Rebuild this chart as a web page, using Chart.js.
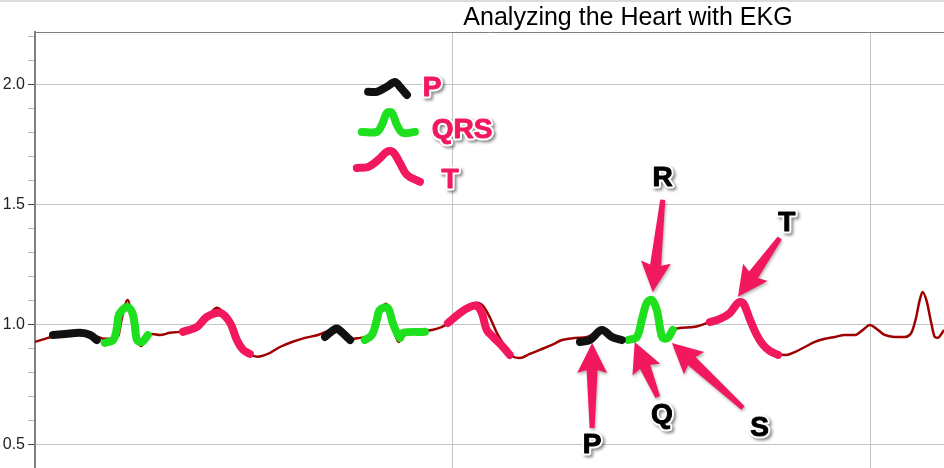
<!DOCTYPE html>
<html lang="en">
<head>
<meta charset="UTF-8">
<title>Analyzing the Heart with EKG</title>
<script src="https://cdn.jsdelivr.net/npm/chart.js"></script>
<style>
  html, body { margin: 0; padding: 0; background: #fff; overflow: hidden; }
  #wrap { width: 944px; height: 468px; position: relative; }
</style>
</head>
<body>
<div id="wrap"><canvas id="ekg"></canvas></div>
<script>
// EKG trace: time (s) and voltage
const traceT = [0, .024, .048, .084, .120, .144, .167, .184, .199, .208, .222, .237, .246, .254, .266, .280, .299, .323, .347, .371,
  .395, .414, .435, .447, .462, .478, .495, .514, .533, .557, .586, .615, .646, .677, .701, .722, .742, .758, .778, .792,
  .806, .821, .840, .852, .861, .871, .880, .897, .921, .950, .974, .993, 1.017, 1.041, 1.057, 1.072, 1.089, 1.105, 1.124, 1.141,
  1.160, 1.184, 1.208, 1.237, 1.261, 1.292, 1.321, 1.340, 1.356, 1.376, 1.395, 1.411, 1.428, 1.443, 1.457, 1.464, 1.476, 1.488, 1.495, 1.505,
  1.514, 1.526, 1.543, 1.579, 1.615, 1.644, 1.667, 1.687, 1.706, 1.722, 1.739, 1.758, 1.778, 1.797, 1.818, 1.842, 1.866, 1.890, 1.914, 1.938,
  1.962, 1.978, 1.998, 2.014, 2.033, 2.057, 2.081, 2.098, 2.108, 2.117, 2.124, 2.134, 2.144, 2.153, 2.160, 2.175];
const traceV = [.929, .942, .954, .958, .962, .954, .942, .942, .954, 1.029, 1.104, .958, .925, .912, .946, .962, .958, .967, .971, .979,
  .992, 1.033, 1.071, 1.058, 1.021, .967, .917, .879, .867, .879, .908, .929, .946, .958, .975, .992, .967, .942, .946, .950,
  .975, 1.046, 1.088, 1.042, .962, .929, .950, .967, .975, .979, .992, 1.012, 1.042, 1.075, 1.092, 1.079, 1.029, .967, .912, .871,
  .862, .879, .896, .917, .937, .946, .950, .967, .987, .962, .942, .937, .946, .958, 1.029, 1.088, 1.108, 1.062, .996, .937,
  .946, .979, .987, .992, 1.012, 1.025, 1.050, 1.096, 1.054, .996, .937, .900, .879, .875, .887, .908, .929, .942, .950, .958,
  .958, .975, 1.000, .983, .958, .950, .950, .971, 1.029, 1.104, 1.137, 1.096, 1.012, .950, .946, .979];

// hand-marked waves, one sub-array per beat
const pWaveT = [[.043, .072, .108, .132, .148], [.694, .718, .725, .754], [1.304, 1.328, 1.356, 1.380, 1.404]];
const pWaveV = [[.958, .962, .967, .958, .937], [.950, .983, .983, .937], [.929, .937, .979, .950, .937]];
const qrsT = [[.167, .187, .196, .201, .220, .232, .239, .244, .256, .270],
  [.789, .806, .818, .825, .844, .856, .873, .880, .933],
  [1.419, 1.440, 1.452, 1.464, 1.476, 1.488, 1.495, 1.502, 1.514, 1.526]];
const qrsV = [[.925, .937, .987, 1.042, 1.075, 1.054, 1.000, .937, .929, .958],
  [.937, .958, 1.021, 1.062, 1.071, 1.008, .946, .967, .971],
  [.937, .950, 1.021, 1.092, 1.104, 1.062, .992, .946, .946, .979]];
const tWaveT = [[.354, .388, .411, .443, .467, .483, .498, .514],
  [.988, 1.017, 1.041, 1.057, 1.069, 1.081, 1.096, 1.120, 1.136],
  [1.615, 1.639, 1.663, 1.682, 1.694, 1.711, 1.727, 1.742, 1.758, 1.778]];
const tWaveV = [[.971, .992, 1.033, 1.050, 1.008, .937, .896, .879],
  [1.008, 1.050, 1.075, 1.079, 1.050, .979, .950, .908, .875],
  [1.012, 1.025, 1.050, 1.092, 1.092, 1.021, .958, .917, .892, .875]];

// key squiggles
const keyPT = [.797, .818, .842, .861, .873, .890];
const keyPV = [1.971, 1.971, 1.992, 2.012, 1.992, 1.958];
const keyQrsT = [.782, .818, .830, .842, .854, .866, .880, .909];
const keyQrsV = [1.804, 1.804, 1.833, 1.883, 1.883, 1.833, 1.800, 1.804];
const keyTT = [.770, .797, .821, .842, .856, .873, .890, .921];
const keyTV = [1.654, 1.658, 1.687, 1.721, 1.721, 1.675, 1.625, 1.596];
const keyNames = ['P', 'QRS', 'T'];
const keyLabelT = [.950, 1.022, .993];
const keyLabelV = [1.987, 1.812, 1.604];

// annotations: letter and arrow (tail -> tip)
const waveLetters = ['R', 'T', 'P', 'Q', 'S'];
const letterT = [1.502, 1.799, 1.333, 1.500, 1.734];
const letterV = [1.612, 1.425, .500, .625, .571];
const arrowFromT = [1.502, 1.782, 1.333, 1.490, 1.694];
const arrowFromV = [1.521, 1.362, .571, .700, .654];
const arrowToT = [1.478, 1.682, 1.333, 1.435, 1.524];
const arrowToV = [1.137, 1.117, .925, .929, .925];

const yTicks = [];
for (let i = 5; i <= 22; i++) yTicks.push(i / 10);
const xGrid = [1, 2];

const PINK = '#f2185e';

function pts(ts, vs) { return ts.map((t, i) => ({ x: t, y: vs[i] })); }
function segs(tl, vl) {
  let out = [];
  tl.forEach((ts, k) => {
    if (k > 0) out.push({ x: ts[0], y: null });
    out = out.concat(pts(ts, vl[k]));
  });
  return out;
}
const isMajor = v => Math.abs(v * 2 - Math.round(v * 2)) < 1e-6;

function thick(label, data, color) {
  return {
    label, data, borderColor: color, borderWidth: 8, pointRadius: 0,
    borderCapStyle: 'round', borderJoinStyle: 'round', tension: 0.35, spanGaps: false, order: 0
  };
}

function arrow(ctx, x0, y0, x1, y1) {
  const dx = x1 - x0, dy = y1 - y0, L = Math.hypot(dx, dy);
  const ux = dx / L, uy = dy / L, nx = -uy, ny = ux;
  const hl = 27, hw = 15;
  const bx = x1 - ux * hl, by = y1 - uy * hl;
  const wx = x1 - ux * (hl + 3), wy = y1 - uy * (hl + 3);
  ctx.beginPath();
  ctx.moveTo(x0 + nx * 2.5, y0 + ny * 2.5);
  ctx.lineTo(bx + nx * 5.5, by + ny * 5.5);
  ctx.lineTo(wx + nx * hw, wy + ny * hw);
  ctx.lineTo(x1, y1);
  ctx.lineTo(wx - nx * hw, wy - ny * hw);
  ctx.lineTo(bx - nx * 5.5, by - ny * 5.5);
  ctx.lineTo(x0 - nx * 2.5, y0 - ny * 2.5);
  ctx.closePath();
  ctx.fill();
}

function label(ctx, text, x, y, fill) {
  ctx.save();
  ctx.font = 'bold 28px "Liberation Sans", Arial, sans-serif';
  ctx.textAlign = 'center';
  ctx.textBaseline = 'middle';
  ctx.lineJoin = 'round';
  ctx.shadowColor = 'rgba(0,0,0,0.45)';
  ctx.shadowOffsetX = 2; ctx.shadowOffsetY = 2; ctx.shadowBlur = 3;
  ctx.strokeStyle = '#fff'; ctx.lineWidth = 5;
  ctx.strokeText(text, x, y);
  ctx.shadowColor = 'transparent';
  ctx.fillStyle = fill;
  ctx.lineWidth = 1; ctx.strokeStyle = fill;
  ctx.strokeText(text, x, y);
  ctx.fillText(text, x, y);
  ctx.restore();
}

const decor = {
  id: 'decor',
  afterDatasetsDraw(chart) {
    const ctx = chart.ctx, xs = chart.scales.x, ys = chart.scales.y;
    ctx.save();
    ctx.fillStyle = PINK;
    ctx.shadowColor = 'rgba(0,0,0,0.3)';
    ctx.shadowOffsetX = 1; ctx.shadowOffsetY = 2; ctx.shadowBlur = 3;
    for (let i = 0; i < waveLetters.length; i++) {
      arrow(ctx, xs.getPixelForValue(arrowFromT[i]), ys.getPixelForValue(arrowFromV[i]),
        xs.getPixelForValue(arrowToT[i]), ys.getPixelForValue(arrowToV[i]));
    }
    ctx.restore();
    waveLetters.forEach((s, i) => label(ctx, s, xs.getPixelForValue(letterT[i]), ys.getPixelForValue(letterV[i]), '#000'));
    keyNames.forEach((s, i) => label(ctx, s, xs.getPixelForValue(keyLabelT[i]), ys.getPixelForValue(keyLabelV[i]), PINK));
  },
  afterDraw(chart) {
    const ctx = chart.ctx, a = chart.chartArea;
    ctx.save();
    ctx.fillStyle = '#dcdcdc';
    ctx.fillRect(0, 0, chart.width, 2);
    ctx.strokeStyle = '#808080';
    ctx.lineWidth = 1;
    ctx.beginPath();
    ctx.moveTo(a.left, a.top + 0.5);
    ctx.lineTo(a.right, a.top + 0.5);
    ctx.stroke();
    ctx.fillStyle = '#000';
    ctx.font = '25px "Liberation Sans", Arial, sans-serif';
    ctx.textAlign = 'center';
    ctx.textBaseline = 'middle';
    ctx.fillText('Analyzing the Heart with EKG', 628, 18);
    ctx.restore();
  }
};

new Chart(document.getElementById('ekg'), {
  type: 'line',
  data: {
    datasets: [
      thick('P', segs(pWaveT, pWaveV), '#111111'),
      thick('QRS', segs(qrsT, qrsV), '#1ee01e'),
      thick('T', segs(tWaveT, tWaveV), PINK),
      thick('key P', pts(keyPT, keyPV), '#111111'),
      thick('key QRS', pts(keyQrsT, keyQrsV), '#1ee01e'),
      thick('key T', pts(keyTT, keyTV), PINK),
      {
        label: 'EKG', data: pts(traceT, traceV), borderColor: '#9e0000', borderWidth: 2.5,
        pointRadius: 0, cubicInterpolationMode: 'monotone', order: 10
      }
    ]
  },
  options: {
    responsive: true,
    maintainAspectRatio: false,
    animation: false,
    layout: { padding: { top: 32, left: 0, right: 0, bottom: 0 } },
    plugins: { legend: { display: false }, tooltip: { enabled: false } },
    scales: {
      x: {
        type: 'linear', min: 0, max: 2.175,
        afterBuildTicks: s => { s.ticks = xGrid.map(v => ({ value: v })); },
        afterFit: s => { s.height = 0; s.paddingLeft = 0; s.paddingRight = 0; },
        ticks: { display: false },
        grid: { color: '#c4c4c4', drawTicks: false },
        border: { display: false }
      },
      y: {
        min: 0.404, max: 2.22,
        afterBuildTicks: s => { s.ticks = yTicks.map(v => ({ value: v })); },
        afterFit: s => { s.width = 35; s.paddingTop = 0; s.paddingBottom = 0; },
        ticks: {
          autoSkip: false, padding: 3, color: '#222',
          font: { family: '"Liberation Sans", Arial, sans-serif', size: 16 },
          callback: v => (isMajor(v) ? v.toFixed(1) : '')
        },
        grid: {
          tickLength: 7,
          color: c => (isMajor(c.tick.value) ? '#c4c4c4' : 'rgba(0,0,0,0)'),
          tickColor: c => (isMajor(c.tick.value) ? '#444' : '#b8b8b8')
        },
        border: { color: '#7f7f7f', width: 2 }
      }
    }
  },
  plugins: [decor]
});
</script>
</body>
</html>
